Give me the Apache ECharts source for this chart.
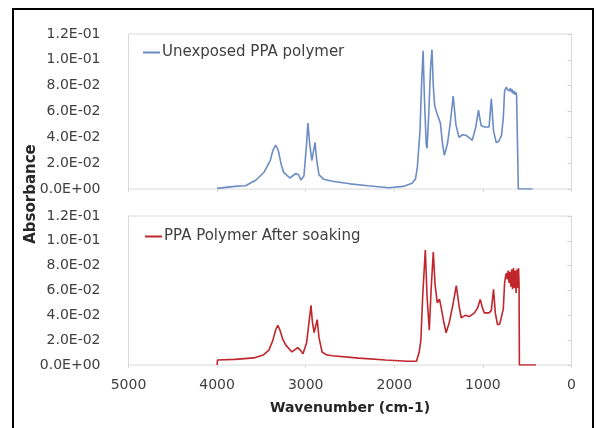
<!DOCTYPE html>
<html><head><meta charset="utf-8">
<script src="https://cdn.jsdelivr.net/npm/echarts@6/dist/echarts.min.js"></script>
<style>html,body{margin:0;padding:0;background:#fff}#c{width:597px;height:428px}</style>
</head><body><div id="c"></div>
<script>
// Wavenumber (cm-1) and absorbance
var topWavenumbers = [4000,3990,3800,3680,3560,3470,3400,3370,3340,3310,3280,3250,3180,3110,3080,3055,3020,2990,2975,2955,2930,2910,2895,2875,2850,2795,2700,2500,2300,2060,1900,1800,1760,1740,1710,1690,1675,1660,1640,1630,1610,1590,1575,1560,1545,1530,1505,1480,1455,1435,1400,1370,1335,1305,1270,1230,1190,1160,1120,1080,1050,1020,980,930,905,880,850,820,790,770,755,735,725,715,700,690,680,670,660,650,640,630,620,605,600,440];
var topAbsorbance = [0.0005,0.0015,0.002,0.0025,0.007,0.013,0.022,0.030,0.034,0.030,0.020,0.013,0.0085,0.012,0.011,0.007,0.010,0.035,0.051,0.035,0.022,0.030,0.036,0.022,0.011,0.0075,0.006,0.004,0.0025,0.001,0.002,0.0045,0.008,0.017,0.045,0.085,0.107,0.070,0.035,0.0315,0.060,0.095,0.108,0.080,0.065,0.061,0.056,0.051,0.035,0.026,0.035,0.050,0.072,0.050,0.040,0.042,0.0415,0.040,0.0377,0.048,0.061,0.049,0.048,0.048,0.070,0.045,0.036,0.037,0.0415,0.055,0.076,0.079,0.077,0.078,0.076,0.078,0.075,0.077,0.074,0.076,0.073,0.075,0.073,0.072,0.0,0.0];

var bottomWavenumbers = [4000,3995,3800,3585,3480,3415,3370,3340,3315,3290,3260,3225,3155,3090,3060,3030,2990,2960,2940,2925,2905,2885,2870,2850,2815,2760,2700,2400,2100,1850,1750,1720,1700,1680,1650,1630,1605,1585,1560,1540,1515,1490,1470,1440,1415,1380,1340,1300,1270,1245,1200,1155,1095,1060,1030,1005,985,930,905,880,860,835,810,790,770,755,745,735,725,715,705,695,685,675,665,655,645,635,625,615,605,598,592,588,400];
var bottomAbsorbance = [0.0,0.004,0.0045,0.0057,0.008,0.012,0.020,0.028,0.032,0.028,0.021,0.016,0.0105,0.014,0.012,0.009,0.018,0.036,0.048,0.035,0.026,0.032,0.0365,0.022,0.0105,0.008,0.0075,0.0055,0.004,0.003,0.003,0.010,0.020,0.055,0.0925,0.055,0.028,0.060,0.091,0.065,0.050,0.053,0.046,0.034,0.026,0.034,0.048,0.064,0.048,0.038,0.040,0.039,0.042,0.046,0.0527,0.046,0.042,0.042,0.044,0.061,0.042,0.0325,0.033,0.034,0.045,0.066,0.071,0.074,0.069,0.076,0.066,0.075,0.063,0.077,0.061,0.078,0.062,0.076,0.058,0.077,0.062,0.078,0.066,0.0,0.0];

var xTicks = {min: 0, max: 5000, interval: 1000};
var yTicks = {min: 0, max: 0.12, interval: 0.02};
var topName = 'Unexposed PPA polymer';
var bottomName = 'PPA Polymer After soaking';

function pairs(xs, ys){ return xs.map(function(x,i){ return [x, ys[i]]; }); }
function fmt(v){
  if (Math.abs(v) < 1e-12) return '0.0E+00';
  var e = Math.floor(Math.log10(Math.abs(v)) + 1e-9);
  var m = v / Math.pow(10, e);
  return m.toFixed(1) + 'E' + (e < 0 ? '-' : '+') + String(Math.abs(e)).padStart(2, '0');
}
var font = 'DejaVu Sans';
var gridBase = {left: 128.5, right: 25.5, show: true, borderColor: '#d9d9d9', borderWidth: 1};
function yAxis(idx){
  return {type:'value', gridIndex: idx, min: yTicks.min, max: yTicks.max, interval: yTicks.interval,
    offset: 6, axisLine:{show:false}, splitLine:{show:false},
    axisTick:{show:true, length:4, lineStyle:{color:'#d0d0d0'}},
    axisLabel:{formatter: fmt, color:'#404040', fontFamily: font, fontSize: 14, margin: 22}};
}
function xAxis(idx, labels){
  return {type:'value', gridIndex: idx, inverse: true, min: xTicks.min, max: xTicks.max, interval: xTicks.interval,
    axisLine:{show:false}, splitLine:{show:false},
    axisTick:{show:true, length:3, lineStyle:{color:'#d9d9d9'}},
    axisLabel:{show: labels, formatter: function(v){ return String(v); }, color:'#404040', fontFamily: font, fontSize: 14, margin: 13},
    name: labels ? 'Wavenumber (cm-1)' : '', nameLocation:'middle', nameGap: 36,
    nameTextStyle:{fontFamily: font, fontWeight:'bold', fontSize: 14, color:'#262626'}};
}
function legend(name, left, top, color){
  return {data:[name], left: left, top: top, icon: 'rect', itemWidth: 17, itemHeight: 2, itemGap: 0,
    itemStyle:{color: color},
    textStyle:{fontFamily: font, fontSize: 15, color:'#404040', padding:[0,0,0,-3]}};
}
var chart = echarts.init(document.getElementById('c'), null, {renderer:'canvas'});
chart.setOption({
  animation: false,
  backgroundColor: '#fff',
  grid: [
    Object.assign({top: 34, height: 155}, gridBase),
    Object.assign({top: 216, height: 149}, gridBase)
  ],
  xAxis: [xAxis(0, false), xAxis(1, true)],
  yAxis: [yAxis(0), yAxis(1)],
  legend: [
    legend(topName, 138, 40, '#6b8cc4'),
    legend(bottomName, 140, 224, '#c0262c')
  ],
  series: [
    {name: topName, type:'line', xAxisIndex:0, yAxisIndex:0, symbol:'none', smooth: false,
     data: pairs(topWavenumbers, topAbsorbance), lineStyle:{color:'#6b8cc4', width:1.6}, itemStyle:{color:'#6b8cc4'}},
    {name: bottomName, type:'line', xAxisIndex:1, yAxisIndex:1, symbol:'none', smooth: false,
     data: pairs(bottomWavenumbers, bottomAbsorbance), lineStyle:{color:'#c0262c', width:1.6}, itemStyle:{color:'#c0262c'}}
  ],
  graphic: [
    {type:'rect', shape:{x:13, y:9, width:580, height:430}, style:{fill:'none', stroke:'#000', lineWidth:2}, silent:true},
    {type:'text', x: 31, y: 194, rotation: Math.PI/2,
     style:{text:'Absorbance', font:'bold 15px "DejaVu Sans"', fill:'#262626', textAlign:'center', textVerticalAlign:'middle'}}
  ]
});
</script></body></html>
